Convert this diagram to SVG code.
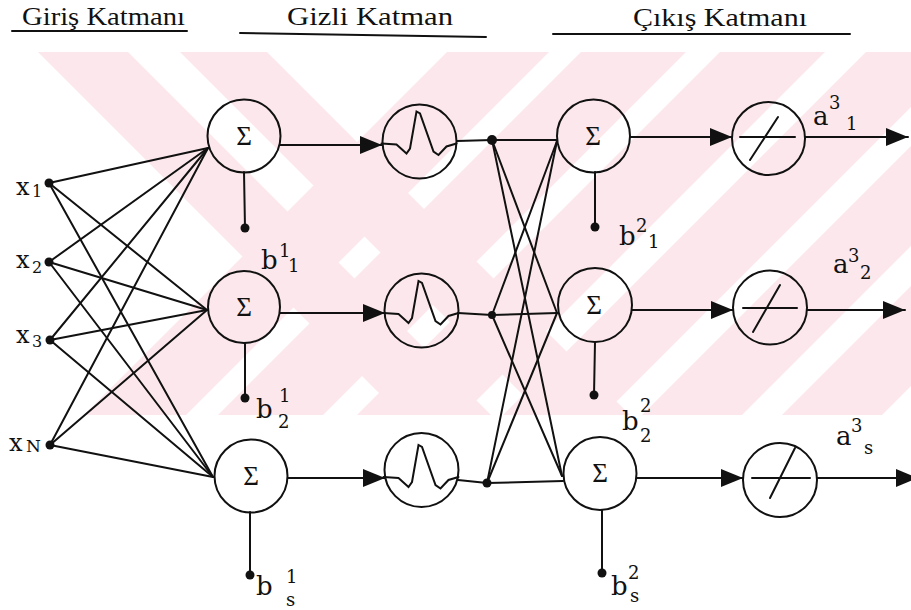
<svg xmlns="http://www.w3.org/2000/svg" xmlns:xlink="http://www.w3.org/1999/xlink" width="911" height="610" viewBox="0 0 911 610">
<style>
.ln{stroke:#111;stroke-width:2;fill:none;stroke-linecap:round}
.cir{stroke:#111;stroke-width:2;fill:none}
.dot{fill:#111}
.wm{fill:#fce8ec}
.hd{font-family:"Liberation Serif","Times New Roman",serif;font-size:25px;fill:#111}
.sg{font-family:"Liberation Serif","Times New Roman",serif;font-size:27px;fill:#111;text-anchor:middle}
.lb{font-family:"DejaVu Serif",serif;font-size:26px;fill:#111}
.ls{font-family:"DejaVu Serif",serif;font-size:18px;fill:#111}
</style>
<defs>
<clipPath id="wmclip"><rect x="0" y="52" width="911" height="363"/></clipPath>
<marker id="ah" markerUnits="userSpaceOnUse" markerWidth="24" markerHeight="20" refX="22" refY="9" orient="auto"><path d="M0,0 L22,9 L0,18 Z" fill="#111"/></marker>
<path id="wave" class="ln" d="M-38,2 L-23,3 L-13,12 L-9.5,7 L-3,-30 L0.5,-28 L14,10 L19,13.5 L27,5 L37,2"/>
</defs>
<rect width="911" height="610" fill="#fff"/>
<g id="watermark" clip-path="url(#wmclip)">
<polygon class="wm" points="38,52 128,52 491,415 401,415"/>
<polygon class="wm" points="180,52 267,52 630,415 543,415"/>
<polygon class="wm" points="447,52 549,52 186,415 84,415"/>
<polygon class="wm" points="581,52 686,52 323,415 218,415"/>
<polygon class="wm" points="720,52 825,52 462,415 357,415"/>
<polygon class="wm" points="866,52 966,52 603,415 503,415"/>
<polygon class="wm" points="1005,52 1105,52 742,415 642,415"/>
<polygon class="wm" points="1145,52 1245,52 882,415 782,415"/>
</g>
<g id="headers">
<text class="hd" x="22" y="25" textLength="163" lengthAdjust="spacingAndGlyphs">Giriş Katmanı</text>
<line class="ln" x1="12" y1="31" x2="187" y2="31"/>
<text class="hd" x="287" y="25" textLength="166" lengthAdjust="spacingAndGlyphs">Gizli  Katman</text>
<line class="ln" x1="240" y1="33" x2="486" y2="37"/>
<text class="hd" x="633" y="26" textLength="174" lengthAdjust="spacingAndGlyphs">Çıkış Katmanı</text>
<line class="ln" x1="553" y1="34" x2="850" y2="34"/>
</g>
<g id="connectors">
<line class="ln" x1="49" y1="183" x2="208" y2="148"/>
<line class="ln" x1="49" y1="183" x2="207" y2="310"/>
<line class="ln" x1="49" y1="183" x2="213" y2="477"/>
<line class="ln" x1="49" y1="262" x2="208" y2="148"/>
<line class="ln" x1="49" y1="262" x2="207" y2="310"/>
<line class="ln" x1="49" y1="262" x2="213" y2="477"/>
<line class="ln" x1="50" y1="340" x2="208" y2="148"/>
<line class="ln" x1="50" y1="340" x2="207" y2="310"/>
<line class="ln" x1="50" y1="340" x2="213" y2="477"/>
<line class="ln" x1="50" y1="445" x2="208" y2="148"/>
<line class="ln" x1="50" y1="445" x2="207" y2="310"/>
<line class="ln" x1="50" y1="445" x2="213" y2="477"/>
<line class="ln" x1="244" y1="172" x2="245" y2="228"/>
<line class="ln" x1="245" y1="343" x2="245" y2="398"/>
<line class="ln" x1="250" y1="512" x2="250" y2="575"/>
<line class="ln" x1="280" y1="145" x2="382" y2="145" marker-end="url(#ah)"/>
<line class="ln" x1="280" y1="313" x2="385" y2="313" marker-end="url(#ah)"/>
<line class="ln" x1="288" y1="478" x2="385" y2="478" marker-end="url(#ah)"/>
<line class="ln" x1="457" y1="141" x2="492" y2="140"/>
<line class="ln" x1="458" y1="313" x2="492" y2="315"/>
<line class="ln" x1="458" y1="480" x2="487" y2="483"/>
<line class="ln" x1="492" y1="140" x2="557" y2="140"/>
<line class="ln" x1="492" y1="315" x2="557" y2="313"/>
<line class="ln" x1="487" y1="483" x2="563" y2="481"/>
<line class="ln" x1="492" y1="140" x2="557" y2="313"/>
<line class="ln" x1="492" y1="140" x2="562" y2="476"/>
<line class="ln" x1="492" y1="315" x2="557" y2="141"/>
<line class="ln" x1="492" y1="315" x2="562" y2="476"/>
<line class="ln" x1="487" y1="483" x2="557" y2="141"/>
<line class="ln" x1="487" y1="483" x2="557" y2="313"/>
<line class="ln" x1="595" y1="172" x2="595" y2="227"/>
<line class="ln" x1="595" y1="342" x2="594" y2="395"/>
<line class="ln" x1="602" y1="510" x2="602" y2="573"/>
<line class="ln" x1="630" y1="137" x2="732" y2="137" marker-end="url(#ah)"/>
<line class="ln" x1="632" y1="310" x2="733" y2="310" marker-end="url(#ah)"/>
<line class="ln" x1="637" y1="478" x2="743" y2="478" marker-end="url(#ah)"/>
<line class="ln" x1="805" y1="137" x2="908" y2="137" marker-end="url(#ah)"/>
<line class="ln" x1="807" y1="310" x2="905" y2="310" marker-end="url(#ah)"/>
<line class="ln" x1="817" y1="478" x2="918" y2="478" marker-end="url(#ah)"/>
</g>
<g id="inputs">
<circle class="dot" cx="49" cy="183" r="4.5"/>
<circle class="dot" cx="49" cy="262" r="4.5"/>
<circle class="dot" cx="50" cy="340" r="4.5"/>
<circle class="dot" cx="50" cy="445" r="4.5"/>
<text class="lb" x="16" y="195" style="font-size:24px">x</text><text class="ls" x="32" y="197" style="font-size:16px">1</text>
<text class="lb" x="16" y="268" style="font-size:24px">x</text><text class="ls" x="32" y="273" style="font-size:16px">2</text>
<text class="lb" x="16" y="343" style="font-size:24px">x</text><text class="ls" x="32" y="347" style="font-size:16px">3</text>
<text class="lb" x="9" y="451" style="font-size:24px">x</text><text class="ls" x="26" y="452" style="font-size:17px">N</text>
</g>
<g id="sum1-1"><circle class="cir" cx="244" cy="136" r="36.5"/><text class="sg" x="244" y="145">Σ</text><circle class="dot" cx="245" cy="228" r="4.5"/>
<text class="lb" x="261" y="269">b</text><text class="ls" x="279" y="257">1</text><text class="ls" x="288" y="272">1</text></g>
<g id="sum1-2"><circle class="cir" cx="244" cy="307" r="36"/><text class="sg" x="244" y="316">Σ</text><circle class="dot" cx="245" cy="398" r="4.5"/>
<text class="lb" x="256" y="418">b</text><text class="ls" x="279" y="402">1</text><text class="ls" x="278" y="428">2</text></g>
<g id="sum1-3"><circle class="cir" cx="251" cy="476" r="36.5"/><text class="sg" x="251" y="485">Σ</text><circle class="dot" cx="250" cy="575" r="4.5"/>
<text class="lb" x="256" y="595">b</text><text class="ls" x="286" y="583">1</text><text class="ls" x="286" y="606">s</text></g>
<g id="rbf-1"><circle class="cir" cx="419.5" cy="141.5" r="37"/><use xlink:href="#wave" href="#wave" x="419.5" y="141.5"/></g>
<g id="rbf-2"><circle class="cir" cx="421.5" cy="310.5" r="37"/><use xlink:href="#wave" href="#wave" x="421.5" y="311"/></g>
<g id="rbf-3"><circle class="cir" cx="421.5" cy="470" r="37"/><use xlink:href="#wave" href="#wave" x="421.5" y="475"/></g>
<g id="hidden-nodes">
<circle class="dot" cx="492" cy="140" r="5"/>
<circle class="dot" cx="492" cy="315" r="4"/>
<circle class="dot" cx="487" cy="483" r="4.5"/>
</g>
<g id="sum2-1"><circle class="cir" cx="593.5" cy="136" r="36.5"/><text class="sg" x="593" y="145">Σ</text><circle class="dot" cx="595" cy="227" r="4.5"/>
<text class="lb" x="619" y="245">b</text><text class="ls" x="636" y="232">2</text><text class="ls" x="648" y="248">1</text></g>
<g id="sum2-2"><circle class="cir" cx="595" cy="305" r="37"/><text class="sg" x="594" y="314">Σ</text><circle class="dot" cx="594" cy="395" r="4.5"/>
<text class="lb" x="622" y="430">b</text><text class="ls" x="640" y="412">2</text><text class="ls" x="640" y="442">2</text></g>
<g id="sum2-3"><circle class="cir" cx="600" cy="473.5" r="36.5"/><text class="sg" x="600" y="482">Σ</text><circle class="dot" cx="602" cy="573" r="4.5"/>
<text class="lb" x="611" y="595">b</text><text class="ls" x="628" y="579">2</text><text class="ls" x="630" y="602">s</text></g>
<g id="lin-1"><circle class="cir" cx="768.5" cy="138.5" r="36.5"/><line class="ln" x1="740" y1="137" x2="795" y2="137"/><line class="ln" x1="778" y1="117" x2="750" y2="160"/>
<text class="lb" x="813" y="125">a</text><text class="ls" x="829" y="109">3</text><text class="ls" x="846" y="130">1</text></g>
<g id="lin-2"><circle class="cir" cx="770" cy="307.5" r="37"/><line class="ln" x1="743" y1="308" x2="797" y2="308"/><line class="ln" x1="780" y1="285" x2="753" y2="332"/>
<text class="lb" x="833" y="273">a</text><text class="ls" x="848" y="262">3</text><text class="ls" x="860" y="279">2</text></g>
<g id="lin-3"><circle class="cir" cx="780" cy="480" r="37"/><line class="ln" x1="752" y1="478" x2="810" y2="478"/><line class="ln" x1="795" y1="448" x2="770" y2="498"/>
<text class="lb" x="836" y="445">a</text><text class="ls" x="851" y="432">3</text><text class="ls" x="864" y="454">s</text></g>
</svg>
